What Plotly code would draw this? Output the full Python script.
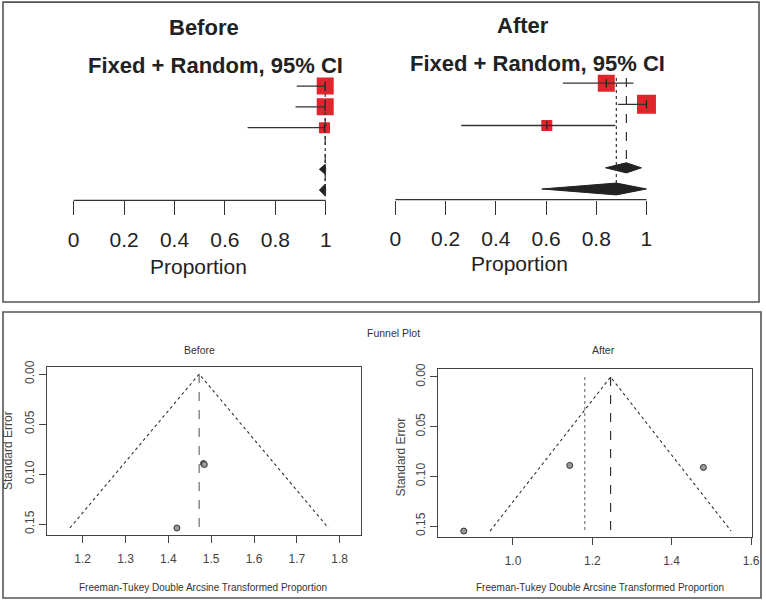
import plotly.graph_objects as go

W, H = 766, 601          # reference picture size
FW, FH = 771, 601        # figure size (compensates the page capture margin)

# ---------------- data ----------------
prop_ticks = [0, 0.2, 0.4, 0.6, 0.8, 1.0]
prop_ticktext = ["0", "0.2", "0.4", "0.6", "0.8", "1"]

# Forest "Before"
before_est = [0.998, 0.998, 0.995]
before_lo = [0.885, 0.880, 0.690]
before_hi = [1.0, 1.0, 1.0]
before_size = [17, 17, 11]
before_fixed = [0.998, 0.975, 1.0]   # est, lo, hi
before_random = [0.998, 0.975, 1.0]

# Forest "After"
after_est = [0.840, 1.0, 0.603]
after_lo = [0.667, 0.886, 0.262]
after_hi = [0.948, 1.0, 0.876]
after_size = [17, 19, 11]
after_fixed = [0.920, 0.837, 0.980]
after_random = [0.880, 0.583, 1.0]

study_rows = [1, 2, 3]
fixed_row = 5
random_row = 6

# Funnel "Before"
fb_x = [1.482, 1.484, 1.420]
fb_se = [0.0895, 0.0905, 0.154]
fb_center = 1.472
fb_semax = 0.154
fb_xticks = [1.2, 1.3, 1.4, 1.5, 1.6, 1.7, 1.8]
fb_xtext = ["1.2", "1.3", "1.4", "1.5", "1.6", "1.7", "1.8"]

# Funnel "After"
fa_x = [1.143, 1.480, 0.876]
fa_se = [0.089, 0.091, 0.155]
fa_center_fixed = 1.246
fa_center_random = 1.181
fa_semax = 0.155
fa_xticks = [1.0, 1.2, 1.4, 1.6]
fa_xtext = ["1.0", "1.2", "1.4", "1.6"]

se_ticks = [0.00, 0.05, 0.10, 0.15]
se_text = ["0.00", "0.05", "0.10", "0.15"]

# ---------------- helpers ----------------
def xp(px):
    return px / W

def yp(py):
    return 1 - (py * 608 / 601 - 7) / FH

def xrange_from(dom_px, p0, v0, p1, v1):
    s = (p1 - p0) / (v1 - v0)
    return [v0 + (dom_px[0] - p0) / s, v0 + (dom_px[1] - p0) / s]

RED = "#e0252c"
DARK = "#222222"
FONT = "Liberation Sans, Arial, sans-serif"

fig = go.Figure()

# ---------------- forest panels ----------------
def forest(xref, yref, est, lo, hi, size, fixed, random):
    fig.add_trace(go.Scatter(
        x=est, y=study_rows, mode="markers", xaxis=xref, yaxis=yref,
        marker=dict(symbol="square", size=size, color=RED, opacity=1, line=dict(width=0)),
        showlegend=False, hoverinfo="skip"))
    fig.add_trace(go.Scatter(
        x=est, y=study_rows, mode="markers", xaxis=xref, yaxis=yref,
        marker=dict(symbol="line-ns", size=6, color=DARK, line=dict(width=1.2, color=DARK)),
        error_x=dict(type="data", symmetric=False,
                     array=[h - e for h, e in zip(hi, est)],
                     arrayminus=[e - l for e, l in zip(est, lo)],
                     color="#333333", thickness=1.3, width=0),
        showlegend=False, hoverinfo="skip"))
    for (e, l, h), row, hh in [(fixed, fixed_row, 0.24), (random, random_row, 0.28)]:
        fig.add_trace(go.Scatter(
            x=[l, e, h, e, l], y=[row, row - hh, row, row + hh, row],
            mode="lines", fill="toself", fillcolor=DARK,
            line=dict(color=DARK, width=1), xaxis=xref, yaxis=yref,
            showlegend=False, hoverinfo="skip"))

def forest_axes(xname, yname, dom, p0, p1, ydom):
    fig.update_layout(**{
        xname: dict(domain=[xp(dom[0]), xp(dom[1])],
                    range=xrange_from(dom, p0, 0, p1, 1),
                    tickvals=prop_ticks, ticktext=prop_ticktext, ticks="outside",
                    ticklen=14, tickwidth=1.3, tickcolor="#333", showline=False,
                    showgrid=False, zeroline=False, ticklabelstandoff=6,
                    tickfont=dict(family=FONT, size=21, color=DARK),
                    anchor=yname.replace("axis", "")),
        yname: dict(domain=[yp(ydom[1]), yp(ydom[0])], range=[6.5, 0], visible=False,
                    showgrid=False, zeroline=False, anchor=xname.replace("axis", "")),
    })

forest_axes("xaxis", "yaxis", [40, 372], 74, 327, [65.2, 200.4])
forest("x", "y", before_est, before_lo, before_hi, before_size, before_fixed, before_random)

forest_axes("xaxis3", "yaxis3", [372, 700], 397, 649, [62, 199.5])
forest("x3", "y3", after_est, after_lo, after_hi, after_size, after_fixed, after_random)

shapes = []
for xr, yr in [("x", "y"), ("x3", "y3")]:
    shapes.append(dict(type="line", xref=xr, yref=f"{yr} domain",
                       x0=prop_ticks[0], x1=prop_ticks[-1], y0=0, y1=0,
                       line=dict(color="#333", width=1.3)))

shapes.append(dict(type="line", xref="x", yref="y", x0=before_fixed[0], x1=before_fixed[0],
                   y0=0.8, y1=random_row + 0.3, line=dict(color="#333", width=1.2, dash="dash")))
shapes.append(dict(type="line", xref="x", yref="y", x0=before_random[0], x1=before_random[0],
                   y0=0.8, y1=random_row + 0.3, line=dict(color="#333", width=1.2, dash="dot")))
shapes.append(dict(type="line", xref="x3", yref="y3", x0=after_fixed[0], x1=after_fixed[0],
                   y0=0.75, y1=fixed_row - 0.24, line=dict(color="#333", width=1.2, dash="dash")))
shapes.append(dict(type="line", xref="x3", yref="y3", x0=after_random[0], x1=after_random[0],
                   y0=0.75, y1=random_row - 0.28, line=dict(color="#333", width=1.2, dash="dot")))

# ---------------- funnel panels ----------------
def funnel_axes(xname, yname, xdom, ydom, xr, yr, xt, xtt):
    fig.update_layout(**{
        xname: dict(domain=[xp(xdom[0]), xp(xdom[1])], range=xr,
                    tickvals=xt, ticktext=xtt, ticks="outside", ticklen=7,
                    tickcolor="#444", showline=True, mirror=True, linecolor="#444",
                    linewidth=1, showgrid=False, zeroline=False, ticklabelstandoff=6,
                    tickfont=dict(family=FONT, size=12, color="#444"),
                    anchor=yname.replace("axis", "")),
        yname: dict(domain=[yp(ydom[1]), yp(ydom[0])], range=yr,
                    tickvals=se_ticks, ticktext=se_text, ticks="outside", ticklen=7,
                    tickcolor="#444", showline=True, mirror=True, linecolor="#444",
                    linewidth=1, showgrid=False, zeroline=False, tickangle=-90,
                    tickfont=dict(family=FONT, size=12, color="#444"),
                    anchor=xname.replace("axis", "")),
    })

funnel_axes("xaxis5", "yaxis5", [47, 362], [367, 535],
            xrange_from([47, 362], 83, 1.2, 341, 1.8), [0.161, -0.007],
            fb_xticks, fb_xtext)
funnel_axes("xaxis6", "yaxis6", [440, 755], [369, 537],
            xrange_from([440, 755], 515, 1.0, 754, 1.6), [0.161, -0.008],
            fa_xticks, fa_xtext)

def funnel(xr, yr, center, semax):
    fig.add_trace(go.Scatter(
        x=[center - 1.96 * semax, center, center + 1.96 * semax],
        y=[semax, 0, semax], mode="lines", xaxis=xr, yaxis=yr,
        line=dict(color="#333", width=1.1, dash="dot"),
        showlegend=False, hoverinfo="skip"))

funnel("x5", "y5", fb_center, fb_semax)
fig.add_trace(go.Scatter(x=[fb_center, fb_center], y=[0, fb_semax], mode="lines",
                         xaxis="x5", yaxis="y5",
                         line=dict(color="#777", width=1.3, dash="dash"),
                         showlegend=False, hoverinfo="skip"))
fig.add_trace(go.Scatter(x=fb_x, y=fb_se, mode="markers", xaxis="x5", yaxis="y5",
                         marker=dict(symbol="circle", size=6, color="#999",
                                     line=dict(color="#333", width=1)),
                         showlegend=False, hoverinfo="skip"))

funnel("x6", "y6", fa_center_fixed, fa_semax)
fig.add_trace(go.Scatter(x=[fa_center_fixed, fa_center_fixed], y=[0, fa_semax], mode="lines",
                         xaxis="x6", yaxis="y6",
                         line=dict(color="#333", width=1.2, dash="dash"),
                         showlegend=False, hoverinfo="skip"))
fig.add_trace(go.Scatter(x=[fa_center_random, fa_center_random], y=[0, fa_semax], mode="lines",
                         xaxis="x6", yaxis="y6",
                         line=dict(color="#777", width=1.2, dash="dot"),
                         showlegend=False, hoverinfo="skip"))
fig.add_trace(go.Scatter(x=fa_x, y=fa_se, mode="markers", xaxis="x6", yaxis="y6",
                         marker=dict(symbol="circle", size=6, color="#999",
                                     line=dict(color="#333", width=1)),
                         showlegend=False, hoverinfo="skip"))

# panel borders
shapes.append(dict(type="rect", xref="paper", yref="paper",
                   x0=xp(3), x1=xp(762), y0=yp(302), y1=yp(2),
                   line=dict(color="#555", width=1.6)))
shapes.append(dict(type="rect", xref="paper", yref="paper",
                   x0=xp(3), x1=xp(764), y0=yp(598), y1=yp(312),
                   line=dict(color="#555", width=1.6)))

# ---------------- text ----------------
def ann(text, px, py, size, bold=False, color=DARK, angle=0):
    t = f"<b>{text}</b>" if bold else text
    return dict(text=t, x=xp(px), y=yp(py), xref="paper", yref="paper",
                showarrow=False, xanchor="center", yanchor="middle",
                textangle=angle, font=dict(family=FONT, size=size, color=color))

annotations = [
    ann("Before", 205, 27, 22, bold=True),
    ann("Fixed + Random, 95% CI", 216, 65, 22, bold=True),
    ann("Proportion", 199, 266, 21),
    ann("After", 525, 25, 22, bold=True),
    ann("Fixed + Random, 95% CI", 540, 63, 22, bold=True),
    ann("Proportion", 522, 263, 21),
    ann("Funnel Plot", 395, 333, 10.5, color="#333"),
    ann("Before", 200, 350, 10.5, color="#333"),
    ann("After", 606, 350, 10.5, color="#333"),
    ann("Freeman-Tukey Double Arcsine Transformed Proportion", 204, 587, 10, color="#333"),
    ann("Freeman-Tukey Double Arcsine Transformed Proportion", 602, 587, 10, color="#333"),
    ann("Standard Error", 8, 450, 12, color="#444", angle=-90),
    ann("Standard Error", 403, 457, 12, color="#444", angle=-90),
]

fig.update_layout(width=FW, height=FH, margin=dict(l=0, r=0, t=0, b=0),
                  paper_bgcolor="white", plot_bgcolor="rgba(0,0,0,0)",
                  shapes=shapes, annotations=annotations, showlegend=False)

fig.write_html("out.html", config={"displayModeBar": False},
               post_script=("document.body.style.margin='0';"
                            "document.body.style.padding='0';"
                            "document.body.style.overflow='hidden';"
                            "document.documentElement.style.overflow='hidden';"))
